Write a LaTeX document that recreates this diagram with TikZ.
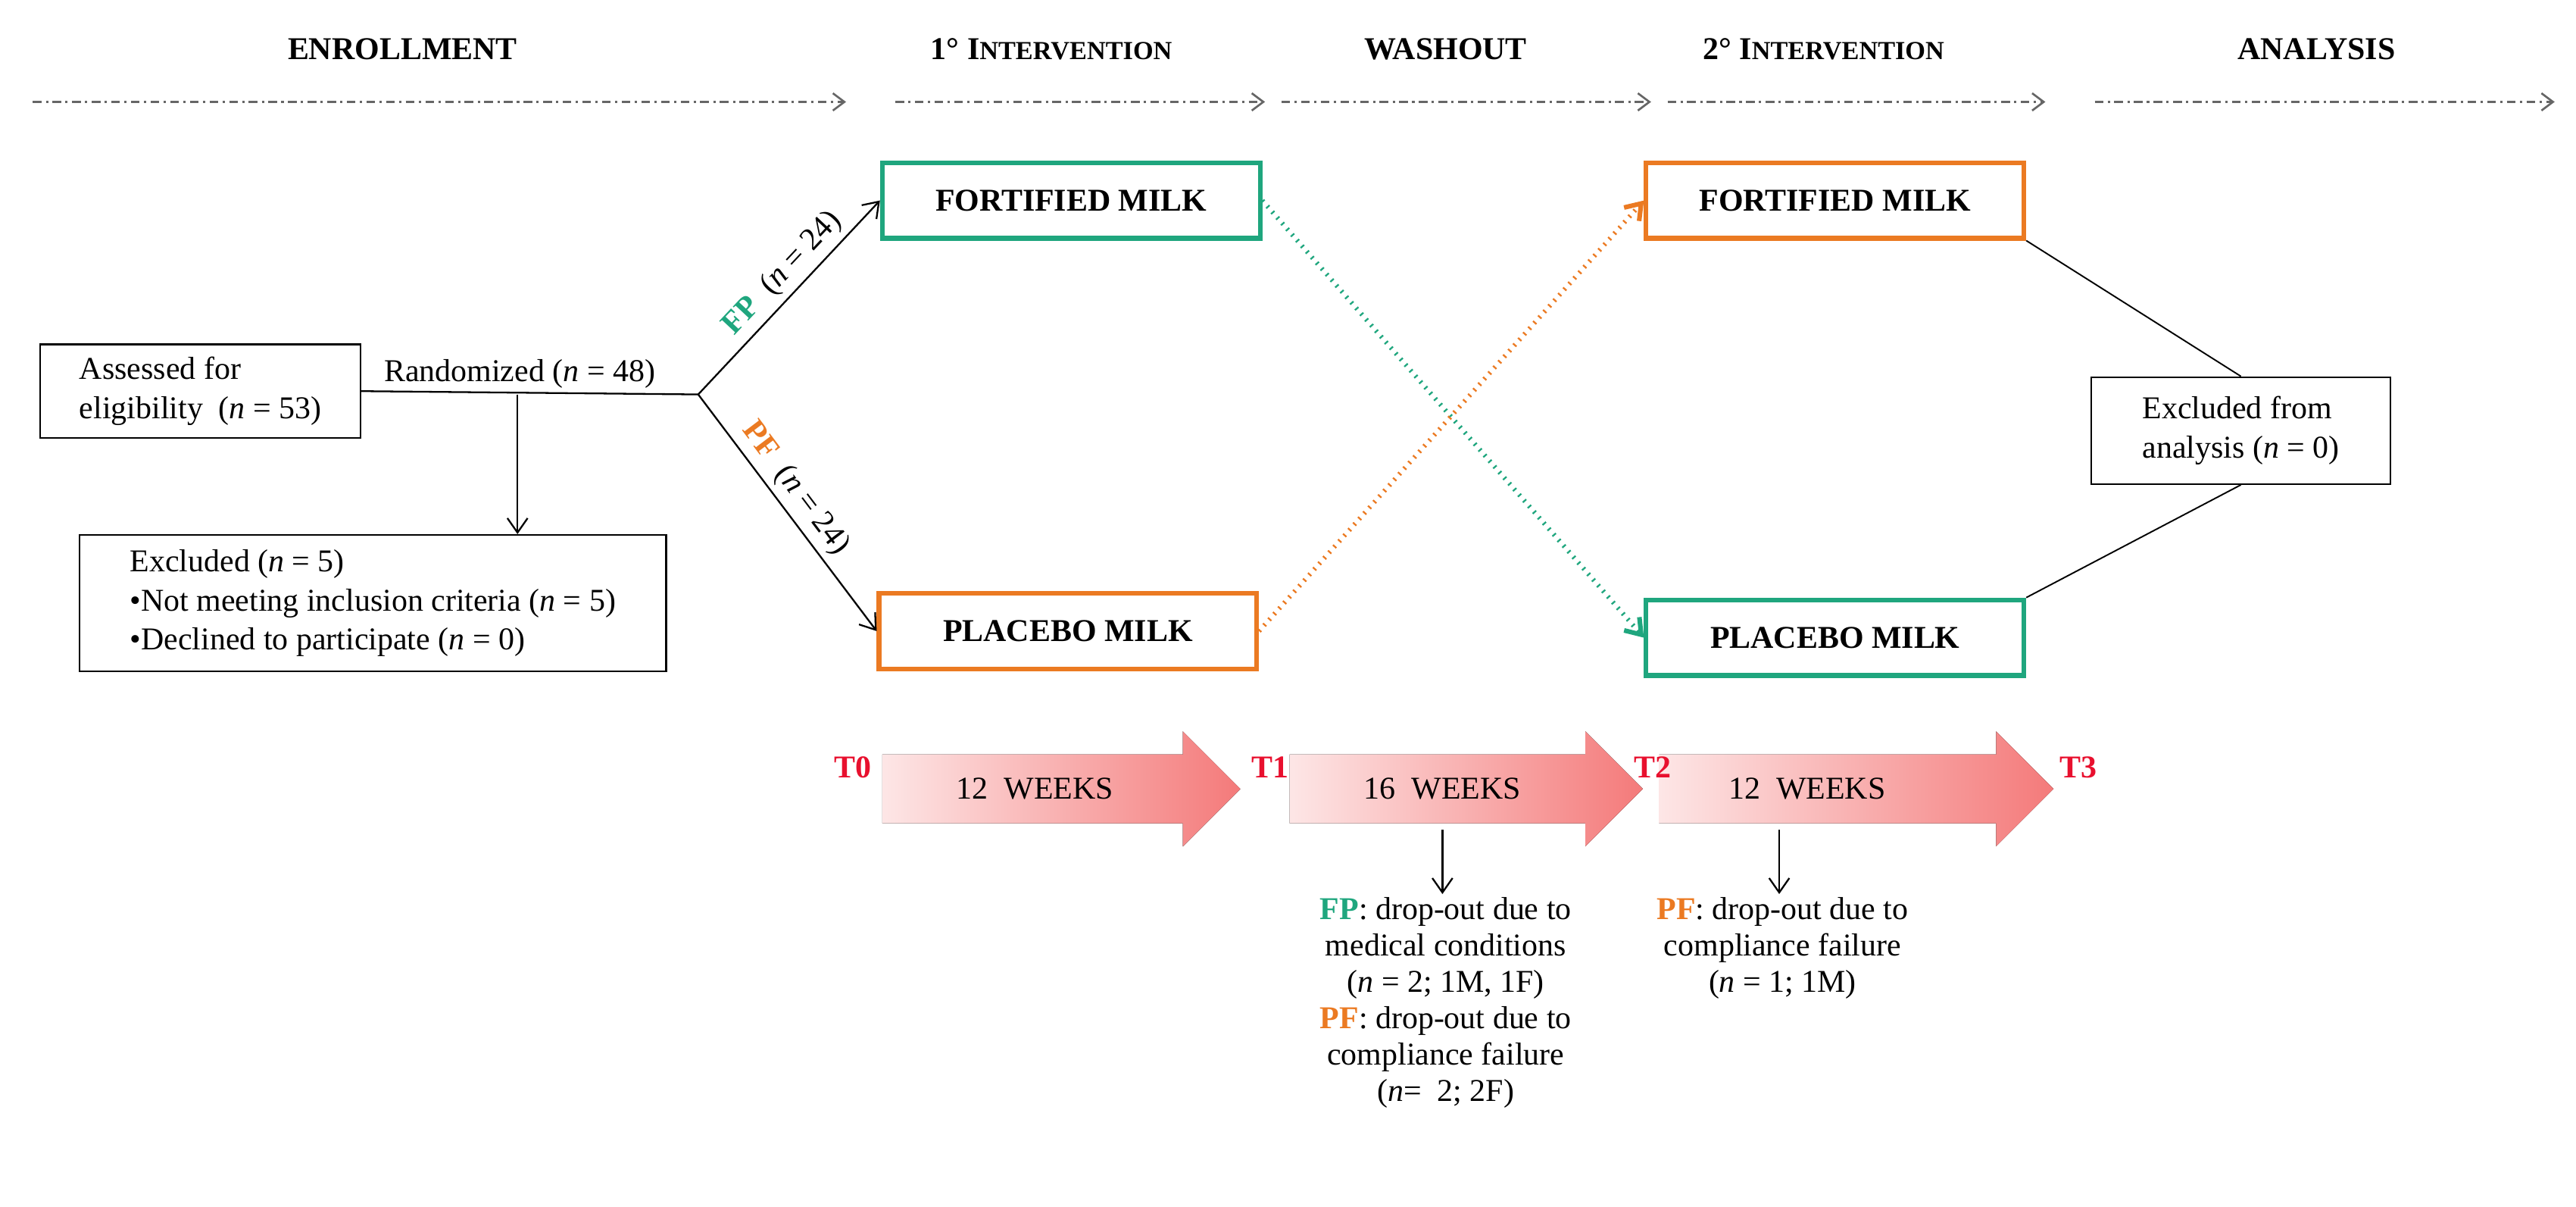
\documentclass[tikz,border=0pt]{standalone}
\usepackage{fontspec}
\setmainfont{Liberation Serif}
\usetikzlibrary{arrows.meta}
\definecolor{grn}{HTML}{1FA67E}
\definecolor{org}{HTML}{EB7A22}
\definecolor{tred}{HTML}{E8102E}
\definecolor{pk1}{HTML}{FDE6E6}
\definecolor{pk2}{HTML}{F47A7A}
\begin{document}
\begin{tikzpicture}[x=0.02cm,y=-0.02cm,
  font=\fontsize{11}{13.5}\selectfont,
  hdr/.style={font=\fontsize{11}{13}\selectfont\bfseries},
  phase/.style={gray!80!black, dash pattern=on 3pt off 1.5pt on 0.8pt off 1.5pt, line width=0.7pt, -{Straight Barb[length=4pt,width=6pt]}},
  box/.style={draw, line width=0.6pt, inner sep=4pt},
  milk/.style={draw, line width=1.6pt, minimum width=4.6cm, minimum height=0.92cm, font=\fontsize{11}{13}\selectfont\bfseries},
  arr/.style={-{Straight Barb[length=5pt,width=7pt]}, line width=0.6pt},
  tl/.style={tred, font=\fontsize{11}{13}\selectfont\bfseries},
  wk/.style={font=\fontsize{11}{13}\selectfont}]
\useasboundingbox (0,0) rectangle (1568,734);
% headers
\node[hdr] (h1) at (245,30) {ENROLLMENT};
\node[hdr] (h2) at (640,30) {1° I\fontsize{9}{11}\selectfont NTERVENTION};
\node[hdr] (h3) at (880,30) {WASHOUT};
\node[hdr] (h4) at (1110,30) {2° I\fontsize{9}{11}\selectfont NTERVENTION};
\node[hdr] (h5) at (1410,30) {ANALYSIS};
\coordinate (p0) at (20,62); \coordinate (p1) at (515,62);
\coordinate (p2) at (545,62); \coordinate (p3) at (770,62);
\coordinate (p4) at (780,62); \coordinate (p5) at (1005,62);
\coordinate (p6) at (1015,62); \coordinate (p7) at (1245,62);
\coordinate (p8) at (1275,62); \coordinate (p9) at (1555,62);
\draw[phase] (p0) -- (p1); \draw[phase] (p2) -- (p3);
\draw[phase] (p4) -- (p5); \draw[phase] (p6) -- (p7);
\draw[phase] (p8) -- (p9);
% enrollment
\node[box, align=left, minimum width=3.9cm, minimum height=1.14cm] (as) at (122,238) {Assessed for\\eligibility\ \ (\textit{n} = 53)};
\coordinate (rz) at (425,240);
\node[anchor=south west, inner sep=2pt] (rt) at (230,240) {Randomized (\textit{n} = 48)};
\draw[line width=0.6pt] (as.east) -- (rz);
\coordinate (dn) at (315,240);
\node[box, align=left, anchor=north west, minimum width=7.14cm, minimum height=1.66cm] (ex) at (48,325) {Excluded (\textit{n} = 5)\\•Not meeting inclusion criteria (\textit{n} = 5)\\•Declined to participate (\textit{n} = 0)};
\draw[arr] (dn) -- (ex.north -| dn);
% milk boxes
\node[milk, draw=grn] (fm1) at (652,122) {FORTIFIED MILK};
\node[milk, draw=org] (pm1) at (650,384) {PLACEBO MILK};
\node[milk, draw=org] (fm2) at (1117,122) {FORTIFIED MILK};
\node[milk, draw=grn] (pm2) at (1117,388) {PLACEBO MILK};
\draw[arr] (rz) -- (fm1.west) node[pos=0.55, sloped, above, inner sep=2pt] {\textcolor{grn}{\textbf{FP}}\ \ (\textit{n} = 24)};
\draw[arr] (rz) -- (pm1.west) node[pos=0.45, sloped, above, inner sep=2pt] {\textcolor{org}{\textbf{PF}}\ \ (\textit{n} = 24)};
\draw[arr, grn, dotted, line width=1.6pt] (fm1.east) -- (pm2.west);
\draw[arr, org, dotted, line width=1.6pt] (pm1.east) -- (fm2.west);
\node[box, align=left, minimum width=3.64cm, minimum height=1.3cm] (ea) at (1364,262) {Excluded from\\analysis (\textit{n} = 0)};
\draw[line width=0.5pt] (fm2.south east) -- (ea.north);
\draw[line width=0.5pt] (pm2.north east) -- (ea.south);
% timeline arrows
\foreach \n/\a/\b in {a1/537/755, a2/785/1000, a3/1010/1250}{
  \fill[left color=pk1, right color=pk2, draw=none]
    (\a,459) -- (\b-35,459) -- (\b-35,445) -- (\b,480) -- (\b-35,515) -- (\b-35,501) -- (\a,501) -- cycle;
}
\node[wk] (w1) at (630,480) {12\ \ WEEKS};
\node[wk] (w2) at (878,480) {16\ \ WEEKS};
\node[wk] (w3) at (1100,480) {12\ \ WEEKS};
\node[tl] (t0) at (519,467) {T0};
\node[tl] (t1) at (773,467) {T1};
\node[tl] (t2) at (1006,467) {T2};
\node[tl] (t3) at (1265,467) {T3};
\coordinate (d1) at (878,505); \coordinate (d2) at (1083,505);
\node[align=center, anchor=north, inner sep=1pt, font=\fontsize{11}{12.6}\selectfont] (wt) at (880,544) {\textcolor{grn}{\textbf{FP}}: drop-out due to\\medical conditions\\(\textit{n} = 2; 1M, 1F)\\\textcolor{org}{\textbf{PF}}: drop-out due to\\compliance failure\\(\textit{n}=\ \ 2; 2F)};
\node[align=center, anchor=north, inner sep=1pt, font=\fontsize{11}{12.6}\selectfont] (rt2) at (1085,544) {\textcolor{org}{\textbf{PF}}: drop-out due to\\compliance failure\\(\textit{n} = 1; 1M)};
\draw[arr] (d1) -- (wt.north -| d1);
\draw[arr] (d2) -- (rt2.north -| d2);
\end{tikzpicture}
\end{document}
